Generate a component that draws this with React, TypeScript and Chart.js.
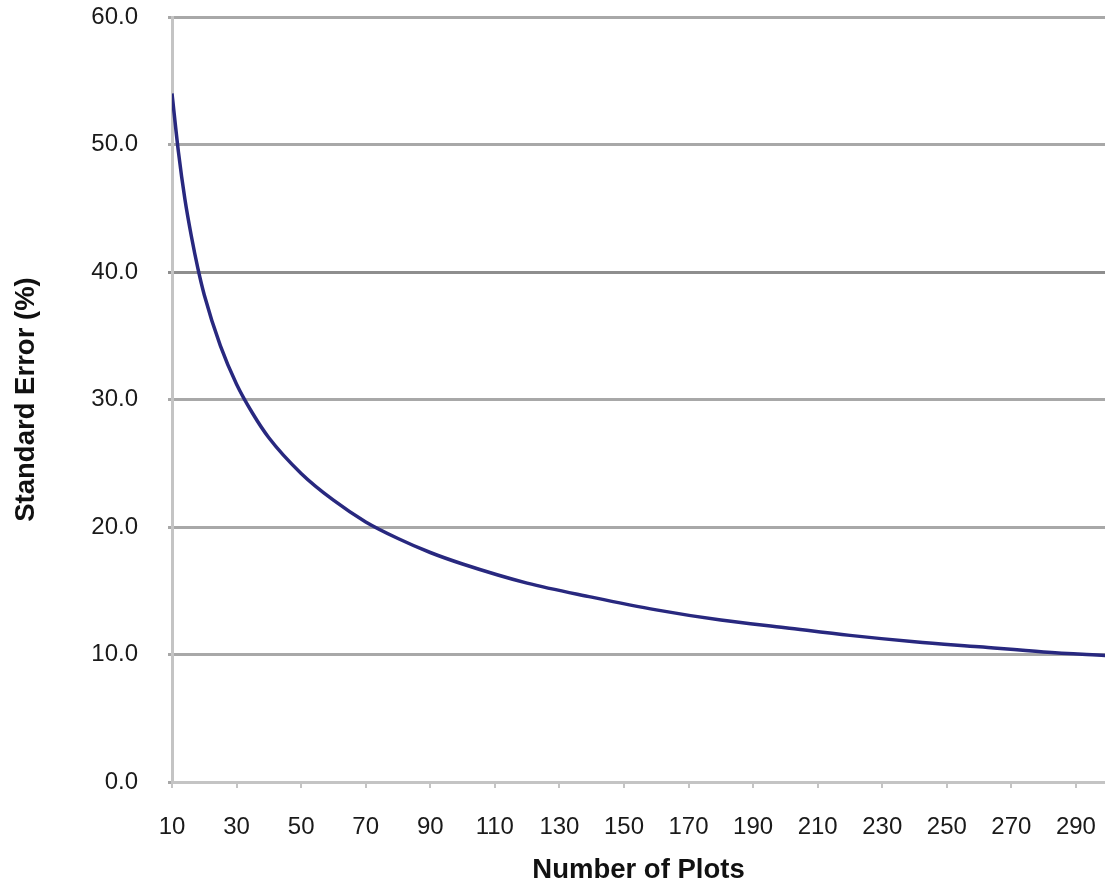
import React, { useEffect, useRef } from "react";
import { Chart, registerables } from "chart.js";

Chart.register(...registerables);

// Number of plots (x) and standard error in % (y)
const plotCounts = [10, 12, 14, 16, 18, 20, 25, 30, 35, 40, 50, 60, 70, 80, 90, 100, 120, 140, 160, 180, 200, 220, 240, 260, 280, 300];
const standardErrors = [54.0, 49.4, 45.7, 42.8, 40.3, 38.2, 34.2, 31.2, 28.9, 27.0, 24.2, 22.1, 20.4, 19.1, 18.0, 17.1, 15.6, 14.5, 13.5, 12.7, 12.1, 11.5, 11.0, 10.6, 10.2, 9.9];

const xTickValues = [10, 30, 50, 70, 90, 110, 130, 150, 170, 190, 210, 230, 250, 270, 290];
const xMin = 10;
const xMax = 299;
const yMin = 0;
const yMax = 60;
const yStep = 10;

const xTitle = "Number of Plots";
const yTitle = "Standard Error (%)";

const FONT = "'Liberation Sans', Arial, sans-serif";

export default function App() {
  const canvasRef = useRef<HTMLCanvasElement | null>(null);

  useEffect(() => {
    if (!canvasRef.current) return;
    const chart = new Chart(canvasRef.current, {
      type: "line",
      data: {
        datasets: [
          {
            data: plotCounts.map((x, i) => ({ x, y: standardErrors[i] })),
            borderColor: "#28287f",
            borderWidth: 3.5,
            pointRadius: 0,
            fill: false,
            cubicInterpolationMode: "monotone",
          },
        ],
      },
      options: {
        animation: false,
        responsive: false,
        devicePixelRatio: 1,
        layout: { padding: { top: 17, right: 0, left: 0, bottom: 0 } },
        plugins: { legend: { display: false }, tooltip: { enabled: false } },
        scales: {
          x: {
            type: "linear",
            min: xMin,
            max: xMax,
            afterBuildTicks: (scale: any) => {
              scale.ticks = xTickValues.map((v) => ({ value: v }));
            },
            afterFit: (scale: any) => {
              scale.height = 110;
              scale.paddingLeft = 0;
              scale.paddingRight = 0;
            },
            border: { color: "#c4c4c4", width: 3 },
            grid: {
              drawOnChartArea: false,
              drawTicks: true,
              tickLength: 6,
              color: "#c4c4c4",
              lineWidth: 2,
            },
            ticks: {
              autoSkip: false,
              maxRotation: 0,
              padding: 25,
              color: "#1a1a1a",
              font: { family: FONT, size: 24 },
              callback: (v: any) => String(v),
            },
            title: {
              display: true,
              text: xTitle,
              color: "#111",
              font: { family: FONT, size: 27.5, weight: "bold" },
              padding: { top: 4, bottom: 5 },
            },
          },
          y: {
            min: yMin,
            max: yMax,
            afterFit: (scale: any) => {
              scale.width = 172;
              scale.paddingTop = 0;
              scale.paddingBottom = 0;
            },
            border: { color: "#c4c4c4", width: 3 },
            grid: {
              color: (ctx: any) => (ctx.tick && ctx.tick.value === 40 ? "#8e8e8e" : "#a8a8a8"),
              lineWidth: 3,
              tickLength: 4,
            },
            ticks: {
              stepSize: yStep,
              padding: 30,
              color: "#1a1a1a",
              font: { family: FONT, size: 24 },
              callback: (v: any) => Number(v).toFixed(1),
            },
            title: {
              display: true,
              text: yTitle,
              color: "#111",
              font: { family: FONT, size: 27.5, weight: "bold" },
              padding: { top: 10, bottom: 0 },
            },
          },
        },
      },
    } as any);
    return () => chart.destroy();
  }, []);

  return (
    <div style={{ position: "absolute", left: 0, top: 0, width: 1105, height: 892, background: "#fff" }}>
      <canvas ref={canvasRef} width={1105} height={892} style={{ width: 1105, height: 892, display: "block" }} />
    </div>
  );
}
